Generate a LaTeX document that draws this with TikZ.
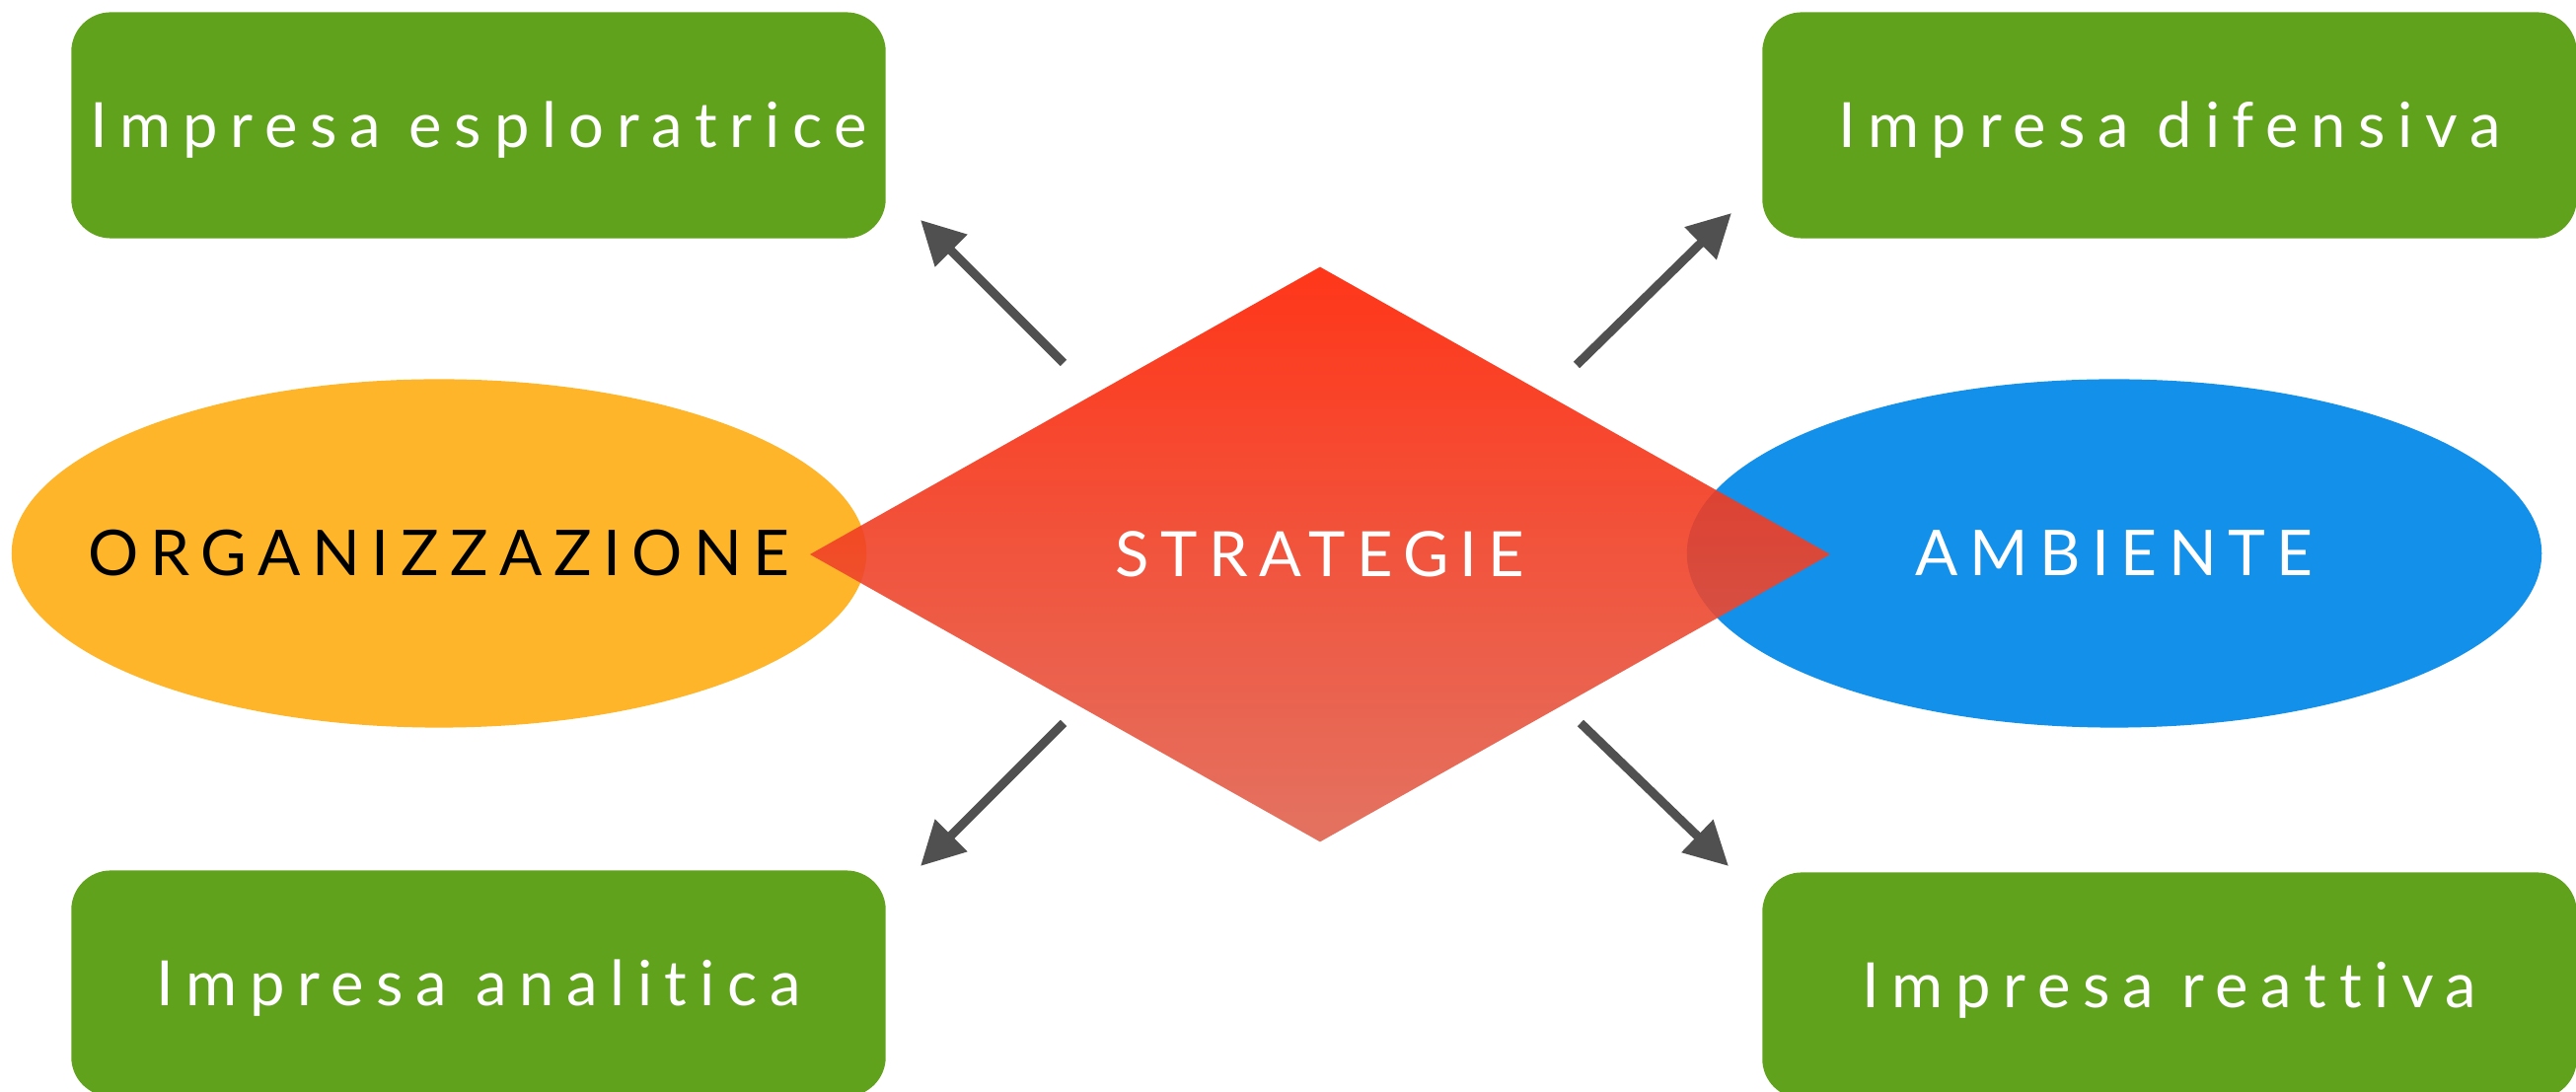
\documentclass[tikz,border=0pt]{standalone}
\usepackage{fontspec}
\setmainfont{Lato}
\newfontfamily\spacedfont[LetterSpace=18,Ligatures=NoCommon]{Lato}
\newfontfamily\boxfont[LetterSpace=20,Ligatures=NoCommon]{Lato}
\usepackage{tikz}
\usetikzlibrary{arrows.meta,shapes.geometric}
\definecolor{boxgreen}{HTML}{61A21D}
\definecolor{orgorange}{HTML}{FEB52A}
\definecolor{ambblue}{HTML}{1390E9}
\definecolor{strattop}{HTML}{FF2000}
\definecolor{stratbot}{HTML}{E06350}
\definecolor{arrowgray}{HTML}{505050}
\tikzstyle{impresa}=[rectangle, rounded corners=0.4cm, fill=boxgreen, text=white,
  minimum width=8.25cm, minimum height=2.29cm, inner sep=0pt,
  font=\boxfont\fontsize{18}{20}\selectfont, text height=12.9pt, text depth=0pt]
\tikzstyle{polo}=[ellipse, minimum width=8.66cm, minimum height=3.53cm, inner sep=0pt,
  font=\spacedfont\fontsize{18.2}{20}\selectfont, text height=13pt, text depth=0pt]
\tikzstyle{arrow}=[-{Triangle[length=4.4mm,width=4.4mm]}, line width=0.9mm, draw=arrowgray]

\begin{document}
\begin{tikzpicture}[x=0.01cm, y=-0.01cm]
\useasboundingbox (0,0) rectangle (2611,1107);
% ellissi ai lati
\node[polo, fill=orgorange, text=black] (org) at (445,561) {\makebox[0pt]{ORGANIZZAZIONE}};
\node[polo, fill=ambblue, text=white] (amb) at (2143,561) {\makebox[0pt]{AMBIENTE}};
% rombo centrale
\node[diamond, minimum width=10.34cm, minimum height=5.83cm, inner sep=0pt,
  top color=strattop, bottom color=stratbot, fill opacity=0.9, text opacity=1,
  text=white, font=\spacedfont\fontsize{18}{20}\selectfont,
  text height=12.9pt, text depth=0pt] (strat) at (1338,562) {STRATEGIE};
% tipi di impresa
\node[impresa] (espl) at (485,127) {Impresa esploratrice};
\node[impresa] (dif) at (2199,127) {Impresa difensiva};
\node[impresa] (anal) at (485,997) {Impresa analitica};
\node[impresa] (reat) at (2199,999) {Impresa reattiva};
% frecce
\coordinate (espl-t) at (1078,368); \coordinate (espl-h) at (933,223);
\coordinate (dif-t) at (1598,370);  \coordinate (dif-h) at (1755,216);
\coordinate (anal-t) at (1078,733); \coordinate (anal-h) at (933,878);
\coordinate (reat-t) at (1602,733); \coordinate (reat-h) at (1752,878);
\draw[arrow] (espl-t)--(espl-h); \draw[arrow] (dif-t)--(dif-h);
\draw[arrow] (anal-t)--(anal-h); \draw[arrow] (reat-t)--(reat-h);
\end{tikzpicture}
\end{document}
